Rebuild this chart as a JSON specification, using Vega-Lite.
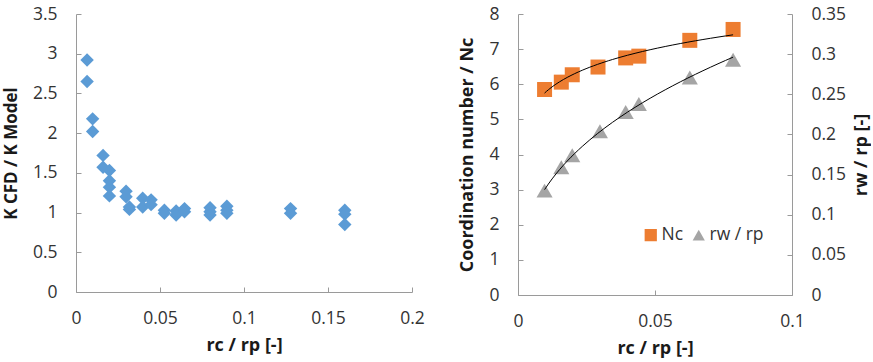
{
  "$schema": "https://vega.github.io/schema/vega-lite/v6.json",
  "padding": {"left": 2, "top": 5, "right": 0, "bottom": 0},
  "background": "white",
  "datasets": {
    "ratio": [
      {"rc_rp": 0.0066, "k_ratio": 2.92},
      {"rc_rp": 0.0066, "k_ratio": 2.65},
      {"rc_rp": 0.0099, "k_ratio": 2.18},
      {"rc_rp": 0.0099, "k_ratio": 2.02},
      {"rc_rp": 0.0161, "k_ratio": 1.72},
      {"rc_rp": 0.0161, "k_ratio": 1.57},
      {"rc_rp": 0.0199, "k_ratio": 1.53},
      {"rc_rp": 0.0199, "k_ratio": 1.40},
      {"rc_rp": 0.0199, "k_ratio": 1.32},
      {"rc_rp": 0.0199, "k_ratio": 1.21},
      {"rc_rp": 0.0298, "k_ratio": 1.27},
      {"rc_rp": 0.0298, "k_ratio": 1.20},
      {"rc_rp": 0.0318, "k_ratio": 1.07},
      {"rc_rp": 0.0318, "k_ratio": 1.04},
      {"rc_rp": 0.0397, "k_ratio": 1.18},
      {"rc_rp": 0.0397, "k_ratio": 1.07},
      {"rc_rp": 0.0447, "k_ratio": 1.16},
      {"rc_rp": 0.0447, "k_ratio": 1.10},
      {"rc_rp": 0.0526, "k_ratio": 1.03},
      {"rc_rp": 0.0526, "k_ratio": 0.99},
      {"rc_rp": 0.0596, "k_ratio": 1.02},
      {"rc_rp": 0.0596, "k_ratio": 0.97},
      {"rc_rp": 0.0646, "k_ratio": 1.05},
      {"rc_rp": 0.0646, "k_ratio": 1.01},
      {"rc_rp": 0.0798, "k_ratio": 1.06},
      {"rc_rp": 0.0798, "k_ratio": 1.01},
      {"rc_rp": 0.0798, "k_ratio": 0.97},
      {"rc_rp": 0.0898, "k_ratio": 1.08},
      {"rc_rp": 0.0898, "k_ratio": 1.03},
      {"rc_rp": 0.0898, "k_ratio": 0.99},
      {"rc_rp": 0.1277, "k_ratio": 1.05},
      {"rc_rp": 0.1277, "k_ratio": 0.99},
      {"rc_rp": 0.16, "k_ratio": 1.03},
      {"rc_rp": 0.16, "k_ratio": 0.98},
      {"rc_rp": 0.16, "k_ratio": 0.85}
    ],
    "packing": [
      {"rc_rp": 0.0097, "series": "Nc", "value": 5.85},
      {"rc_rp": 0.0158, "series": "Nc", "value": 6.06},
      {"rc_rp": 0.0198, "series": "Nc", "value": 6.27},
      {"rc_rp": 0.0292, "series": "Nc", "value": 6.49},
      {"rc_rp": 0.0393, "series": "Nc", "value": 6.75},
      {"rc_rp": 0.0441, "series": "Nc", "value": 6.80},
      {"rc_rp": 0.0627, "series": "Nc", "value": 7.25},
      {"rc_rp": 0.0785, "series": "Nc", "value": 7.56},
      {"rc_rp": 0.0097, "series": "rw / rp", "value": 0.130},
      {"rc_rp": 0.0158, "series": "rw / rp", "value": 0.159},
      {"rc_rp": 0.0198, "series": "rw / rp", "value": 0.174},
      {"rc_rp": 0.0299, "series": "rw / rp", "value": 0.204},
      {"rc_rp": 0.0393, "series": "rw / rp", "value": 0.228},
      {"rc_rp": 0.0441, "series": "rw / rp", "value": 0.238},
      {"rc_rp": 0.0627, "series": "rw / rp", "value": 0.271},
      {"rc_rp": 0.0785, "series": "rw / rp", "value": 0.293}
    ]
  },
  "spacing": 33,
  "resolve": {"legend": {"color": "independent", "shape": "independent"}},
  "hconcat": [
    {
      "width": 336,
      "height": 278,
      "data": {"name": "ratio"},
      "mark": {"type": "point", "shape": "diamond", "filled": true, "opacity": 1, "size": 180, "color": "#5B9BD5"},
      "encoding": {
        "x": {
          "field": "rc_rp", "type": "quantitative",
          "scale": {"domain": [0, 0.2], "nice": false, "zero": false},
          "axis": {"values": [0, 0.05, 0.1, 0.15, 0.2], "title": "rc / rp  [-]"}
        },
        "y": {
          "field": "k_ratio", "type": "quantitative",
          "scale": {"domain": [0, 3.5], "nice": false},
          "axis": {"values": [0, 0.5, 1, 1.5, 2, 2.5, 3, 3.5], "title": "K CFD / K Model", "titleFontSize": 17}
        }
      }
    },
    {
      "width": 274,
      "height": 281,
      "data": {"name": "packing"},
      "layer": [
        {
          "transform": [{"filter": "datum.series === 'Nc'"}],
          "layer": [
            {
              "mark": {"type": "point", "filled": true, "opacity": 1, "size": 225},
              "encoding": {
                "x": {
                  "field": "rc_rp", "type": "quantitative",
                  "scale": {"domain": [0, 0.1], "nice": false, "zero": false},
                  "axis": {"values": [0, 0.05, 0.1], "title": "rc / rp  [-]"}
                },
                "y": {
                  "field": "value", "type": "quantitative",
                  "scale": {"domain": [0, 8], "nice": false},
                  "axis": {"orient": "left", "values": [0, 1, 2, 3, 4, 5, 6, 7, 8], "title": "Coordination number / Nc"}
                },
                "color": {"field": "series", "type": "nominal", "scale": {"domain": ["Nc", "rw / rp"], "range": ["#ED7D31", "#A5A5A5"]}, "legend": {"title": null, "orient": "none", "direction": "horizontal", "legendX": 124, "legendY": 212}},
                "shape": {"field": "series", "type": "nominal", "scale": {"domain": ["Nc", "rw / rp"], "range": ["square", "triangle-up"]}, "legend": {"title": null, "orient": "none", "direction": "horizontal", "legendX": 124, "legendY": 212}}
              }
            },
            {
              "transform": [{"regression": "value", "on": "rc_rp", "method": "pow"}],
              "mark": {"type": "line", "color": "#000000", "strokeWidth": 1},
              "encoding": {
                "x": {
                  "field": "rc_rp", "type": "quantitative",
                  "axis": {"values": [0, 0.05, 0.1], "title": "rc / rp  [-]"}
                },
                "y": {
                  "field": "value", "type": "quantitative",
                  "axis": {"orient": "left", "values": [0, 1, 2, 3, 4, 5, 6, 7, 8], "title": "Coordination number / Nc"}
                }
              }
            }
          ]
        },
        {
          "transform": [{"filter": "datum.series === 'rw / rp'"}],
          "layer": [
            {
              "mark": {"type": "point", "filled": true, "opacity": 1, "size": 260},
              "encoding": {
                "x": {"field": "rc_rp", "type": "quantitative"},
                "y": {
                  "field": "value", "type": "quantitative",
                  "scale": {"domain": [0, 0.35], "nice": false},
                  "axis": {"orient": "right", "values": [0, 0.05, 0.1, 0.15, 0.2, 0.25, 0.3, 0.35], "title": "rw / rp [-]", "titleAngle": 270, "titleBaseline": "top", "titlePadding": 7}
                },
                "color": {"field": "series", "type": "nominal"},
                "shape": {"field": "series", "type": "nominal"}
              }
            },
            {
              "transform": [{"regression": "value", "on": "rc_rp", "method": "pow"}],
              "mark": {"type": "line", "color": "#000000", "strokeWidth": 1},
              "encoding": {
                "x": {"field": "rc_rp", "type": "quantitative"},
                "y": {
                  "field": "value", "type": "quantitative",
                  "axis": {"orient": "right", "values": [0, 0.05, 0.1, 0.15, 0.2, 0.25, 0.3, 0.35], "title": "rw / rp [-]", "titleAngle": 270, "titleBaseline": "top", "titlePadding": 7}
                }
              }
            }
          ]
        }
      ],
      "resolve": {"scale": {"y": "independent"}}
    }
  ],
  "config": {
    "view": {"stroke": null},
    "font": "Open Sans",
    "axis": {
      "grid": false,
      "domainColor": "#9a9a9a",
      "tickColor": "#9a9a9a",
      "tickSize": -5,
      "labelFont": "Open Sans",
      "labelFontSize": 17.5,
      "labelColor": "#333333",
      "labelPadding": 24,
      "labelFlush": false,
      "labelOverlap": false,
      "labelBound": false,
      "titleFont": "Open Sans",
      "titleFontSize": 18,
      "titleFontWeight": "bold",
      "titleColor": "#1a1a1a",
      "titlePadding": 12,
      "format": "~g"
    },
    "axisX": {"labelPadding": 22, "titlePadding": 10},
    "legend": {
      "labelFont": "Open Sans",
      "labelFontSize": 17.5,
      "labelColor": "#333333",
      "symbolSize": 150,
      "symbolStrokeWidth": 0,
      "columnPadding": 6,
      "labelOffset": 2
    }
  }
}
